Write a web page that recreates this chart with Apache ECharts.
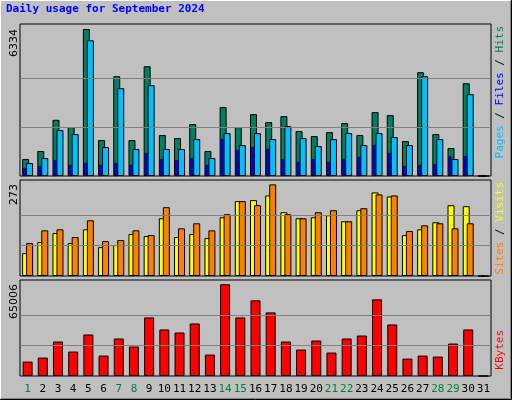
<!DOCTYPE html>
<html>
<head>
<meta charset="UTF-8">
<script src="https://cdn.jsdelivr.net/npm/echarts@6/dist/echarts.min.js"></script>
<style>
  body { margin: 0; }
  #grafica { width: 512px; height: 400px; background: #c0c0c0; }
</style>
</head>
<body>
<div id="grafica"></div>
<script>
  const dias = ['1','2','3','4','5','6','7','8','9','10','11','12','13','14','15','16','17','18','19','20','21','22','23','24','25','26','27','28','29','30','31'];
  const finde = ['1','7','8','14','15','21','22','28','29'];
  const hits = [731,1075,2422,2107,6334,1548,4299,1548,4729,1763,1634,2236,1075,2966,2107,2665,2322,2580,1935,1720,1892,2279,1763,2751,2622,1505,4471,1806,1204,3998,0];
  const files = [559,774,1978,1806,5847,1247,3783,1161,3912,1161,1161,1591,774,1849,1333,1849,1591,2150,1634,1290,1591,1849,1333,1849,1677,1333,4299,1591,731,3525,0];
  const pages = [344,430,688,473,559,473,559,473,989,731,688,774,473,1591,1118,1247,1161,731,602,731,602,731,817,1333,989,430,473,516,860,860,0];
  const visits = [68,101,128,98,139,86,92,125,119,172,116,125,113,175,223,226,240,190,172,175,181,163,196,249,237,122,139,160,211,208,0];
  const sites = [98,136,139,116,166,104,107,136,122,205,142,157,136,184,223,211,273,184,172,190,196,163,202,243,240,134,151,157,142,157,0];
  const kbytes = [10201,13049,24436,17319,29418,14472,26571,20878,41518,32977,30842,37247,15184,65006,41518,53617,45076,24436,18742,25148,16607,26571,28706,54329,36535,12337,14472,13760,23012,32977,0];

  const maxHits = 6334, maxSites = 273, maxKb = 65006;

  let chart = echarts.init(document.getElementById('grafica'));

  function lineas(max) {
    return {
      silent: true, symbol: 'none', label: { show: false },
      lineStyle: { color: '#808080', type: 'solid', width: 1 },
      data: [{ yAxis: max / 3 }, { yAxis: max * 2 / 3 }]
    };
  }
  const borde = { borderColor: '#000', borderWidth: 1 };
  const ejeX = (g, show) => ({
    type: 'category', gridIndex: g, data: dias,
    axisLine: { show: false }, axisTick: { show: false },
    axisLabel: show ? {
      show: true, fontFamily: 'DejaVu Sans Mono', fontSize: 11, margin: 8, interval: 0,
      color: v => finde.includes(v) ? '#008040' : '#000'
    } : { show: false }
  });
  const ejeY = (g, max) => ({
    type: 'value', gridIndex: g, min: 0, max: max,
    axisLine: { show: false }, axisTick: { show: false },
    axisLabel: { show: false }, splitLine: { show: false }
  });
  const texto = (x, y, rich, str) => ({
    type: 'text', x: x, y: y, rotation: Math.PI / 2,
    style: { text: str, rich: rich, fontFamily: 'DejaVu Sans Mono', fontSize: 11, fill: '#000', align: 'right', verticalAlign: 'middle' }
  });

  let option = {
    animation: false,
    grid: [
      { left: 20, right: 21, top: 24, height: 152, show: true, borderColor: '#000' },
      { left: 20, right: 21, top: 180, height: 96, show: true, borderColor: '#000' },
      { left: 20, right: 21, top: 280, height: 96, show: true, borderColor: '#000' }
    ],
    xAxis: [ejeX(0, false), ejeX(0, false), ejeX(1, false), ejeX(2, true)],
    yAxis: [ejeY(0, 6550), ejeY(0, 6550), ejeY(1, 286), ejeY(2, 68050)],
    series: [
      { type: 'bar', xAxisIndex: 0, yAxisIndex: 0, data: hits, barWidth: 7, barGap: '-43%',
        itemStyle: Object.assign({ color: '#008060' }, borde), markLine: lineas(maxHits), z: 2 },
      { type: 'bar', xAxisIndex: 0, yAxisIndex: 0, data: files, barWidth: 7,
        itemStyle: Object.assign({ color: '#00c0ff' }, borde), z: 3 },
      { type: 'bar', xAxisIndex: 1, yAxisIndex: 1, data: pages, barWidth: 3, barGap: 0,
        itemStyle: { color: '#0000ff', borderColor: '#000', borderWidth: 0.5 }, z: 4 },
      { type: 'bar', xAxisIndex: 1, yAxisIndex: 1, data: [], barWidth: 6 },
      { type: 'bar', xAxisIndex: 2, yAxisIndex: 2, data: visits, barWidth: 7, barGap: '-43%',
        itemStyle: Object.assign({ color: '#ffff00' }, borde), markLine: lineas(maxSites), z: 2 },
      { type: 'bar', xAxisIndex: 2, yAxisIndex: 2, data: sites, barWidth: 7,
        itemStyle: Object.assign({ color: '#ff8000' }, borde), z: 3 },
      { type: 'bar', xAxisIndex: 3, yAxisIndex: 3, data: kbytes, barWidth: 10,
        itemStyle: Object.assign({ color: '#ff0000' }, borde), markLine: lineas(maxKb) }
    ],
    graphic: [
      { type: 'rect', shape: { x: 0.5, y: 0.5, width: 510, height: 398 },
        style: { fill: 'none', stroke: '#ffffff', lineWidth: 1 } },
      { type: 'polyline', shape: { points: [[511.5, 0], [511.5, 399.5], [0, 399.5]] },
        style: { stroke: '#000', lineWidth: 1, fill: 'none' } },
      { type: 'polyline', shape: { points: [[510.5, 1], [510.5, 398.5], [1, 398.5]] },
        style: { stroke: '#808080', lineWidth: 1, fill: 'none' } },
      { type: 'text', x: 6, y: 9, style: { text: 'Daily usage for September 2024', fontFamily: 'DejaVu Sans Mono',
        fontSize: 11, fontWeight: 'bold', fill: '#0000ff', verticalAlign: 'middle' } },
      { type: 'text', x: 14, y: 29, rotation: Math.PI / 2, style: { text: String(maxHits), fontFamily: 'DejaVu Sans',
        fontSize: 11, fill: '#000', align: 'right', verticalAlign: 'middle' } },
      { type: 'text', x: 14, y: 184, rotation: Math.PI / 2, style: { text: String(maxSites), fontFamily: 'DejaVu Sans',
        fontSize: 11, fill: '#000', align: 'right', verticalAlign: 'middle' } },
      { type: 'text', x: 14, y: 284, rotation: Math.PI / 2, style: { text: String(maxKb), fontFamily: 'DejaVu Sans',
        fontSize: 11, fill: '#000', align: 'right', verticalAlign: 'middle' } },
      texto(500, 26, { p: { fill: '#00c0ff' }, f: { fill: '#0000ff' }, h: { fill: '#008060' }, s: { fill: '#000' } },
        '{p|Pages}{s| / }{f|Files}{s| / }{h|Hits}'),
      texto(500, 182, { v: { fill: '#ffff00' }, t: { fill: '#ff8000' }, s: { fill: '#000' } },
        '{t|Sites}{s| / }{v|Visits}'),
      texto(500, 330, { k: { fill: '#ff0000' } }, '{k|KBytes}')
    ]
  };
  chart.setOption(option);
</script>
</body>
</html>
